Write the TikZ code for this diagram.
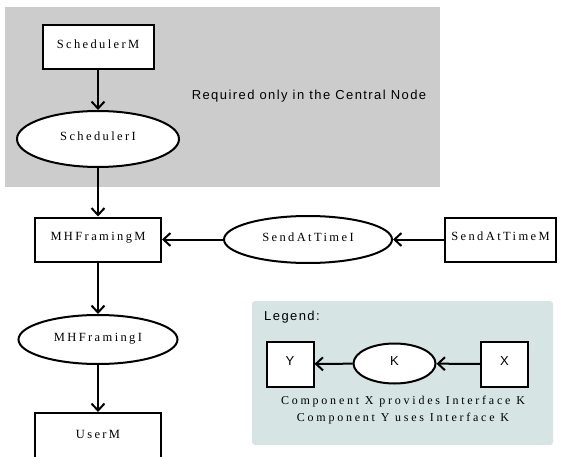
\documentclass[tikz,border=0pt]{standalone}
\usepackage{fontspec}
\usetikzlibrary{arrows.meta,shapes.geometric}
\newfontfamily\labelserif[LetterSpace=19]{Liberation Serif}
\newfontfamily\noteserif[LetterSpace=23]{Liberation Serif}
\newfontfamily\labelsans[LetterSpace=11]{Liberation Sans}
\definecolor{zonegray}{RGB}{204,204,204}
\definecolor{legendbg}{RGB}{214,228,228}
\tikzset{
  comp/.style={draw=black, line width=2pt, fill=white, rectangle,
    inner sep=0pt, font=\labelserif\fontsize{12.5}{14}\selectfont,
    text height=8.5pt, text depth=6pt},
  iface/.style={draw=black, line width=2pt, fill=white, ellipse,
    inner sep=0pt, font=\labelserif\fontsize{12.5}{14}\selectfont,
    text height=8.5pt, text depth=4.5pt},
  link/.style={line width=2pt, -{Straight Barb[length=7pt,width=13pt,line width=2pt]}},
  sanstext/.style={font=\labelsans\fontsize{13}{15}\selectfont, inner sep=0pt},
  notetext/.style={font=\noteserif\fontsize{12}{14}\selectfont, inner sep=0pt}
}
\begin{document}
\begin{tikzpicture}[x=1pt,y=-1pt]
\useasboundingbox (0,0) rectangle (567,457);
\clip (0,0) rectangle (567,457);

% central-node zone
\fill[zonegray] (5,7) rectangle (440,187);
\node[sanstext] (note) at (309,96) {Required only in the Central Node};

% legend panel
\fill[legendbg, rounded corners=3pt] (252,301) rectangle (553,445);
\node[sanstext, anchor=west] (legtitle) at (264,317) {Legend:};

% components and interfaces
\node[comp, minimum width=111pt, minimum height=44pt] (schedM) at (98,47) {SchedulerM};
\node[iface, minimum width=162pt, minimum height=56pt] (schedI) at (98,139) {SchedulerI};
\node[comp, minimum width=126pt, minimum height=44pt] (mhfM) at (98,239.5) {MHFramingM};
\node[iface, minimum width=168pt, minimum height=47pt] (sendI) at (308,239.5) {SendAtTimeI};
\node[comp, minimum width=111pt, minimum height=44pt] (sendM) at (500.5,239.5) {SendAtTimeM};
\node[iface, minimum width=159pt, minimum height=49pt] (mhfI) at (98,339.5) {MHFramingI};
\node[comp, minimum width=126pt, minimum height=48pt] (userM) at (98,437) {UserM};

% legend example
\node[comp, font=\labelsans\fontsize{13}{15}\selectfont, minimum width=47pt, minimum height=45pt] (legY) at (290,364) {Y};
\node[iface, font=\labelsans\fontsize{13}{15}\selectfont, minimum width=82pt, minimum height=40pt] (legK) at (394.5,363.5) {K};
\node[comp, font=\labelsans\fontsize{13}{15}\selectfont, minimum width=47pt, minimum height=45pt] (legX) at (504.5,364) {X};
\node[notetext] (leg1) at (403,402) {Component X provides Interface K};
\node[notetext] (leg2) at (403,419) {Component Y uses Interface K};

% connectors
\draw[link] (schedM) -- (schedI);
\draw[link] (schedI) -- (mhfM);
\draw[link] (mhfM) -- (mhfI);
\draw[link] (mhfI) -- (userM);
\draw[link] (sendI) -- (mhfM);
\draw[link] (sendM) -- (sendI);
\draw[link] (legK) -- (legY);
\draw[link] (legX) -- (legK);
\end{tikzpicture}
\end{document}
